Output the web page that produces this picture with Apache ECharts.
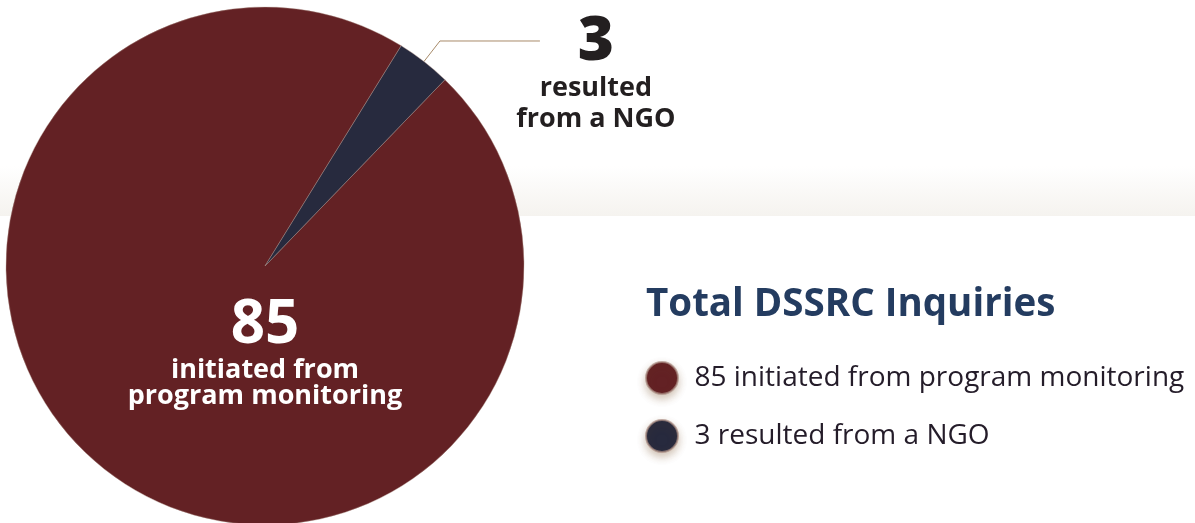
<!DOCTYPE html>
<html>
<head>
<meta charset="utf-8">
<script src="https://cdn.jsdelivr.net/npm/echarts@6/dist/echarts.min.js"></script>
<style>
  html, body { margin: 0; padding: 0; background: #fff; }
  #chart { width: 1195px; height: 523px; }
</style>
</head>
<body>
<div id="chart"></div>
<script>
const categories = ['initiated from program monitoring', 'resulted from a NGO']
const values = [85, 3]
const sliceLabels = ['initiated from\nprogram monitoring', 'resulted\nfrom a NGO']
const colors = ['#632124', '#272a3e']
const titleText = 'Total DSSRC Inquiries'

const FONT = '"Open Sans"'
const names = categories.map((c, i) => values[i] + ' ' + c)

const richText = (v, txt) =>
  '{v|' + v + '}\n' + txt.split('\n').map((l) => '{t|' + l + '}').join('\n')

const chart = echarts.init(document.getElementById('chart'), null, {
  renderer: 'canvas',
  width: 1195,
  height: 523,
})

const option = {
  animation: false,
  backgroundColor: '#fff',
  graphic: [
    {
      type: 'rect',
      z: -10,
      silent: true,
      shape: { x: 0, y: 166, width: 1195, height: 50 },
      style: {
        fill: {
          type: 'linear', x: 0, y: 0, x2: 0, y2: 1,
          colorStops: [
            { offset: 0, color: 'rgba(245,242,238,0)' },
            { offset: 1, color: '#f5f3ef' },
          ],
        },
      },
    },
  ],
  title: {
    text: titleText,
    left: 646,
    top: 286,
    padding: 0,
    textStyle: { fontFamily: FONT, fontSize: 38.5, fontWeight: 'bold', color: '#243c60' },
  },
  legend: {
    orient: 'vertical',
    left: 640,
    top: 356,
    icon: 'circle',
    itemWidth: 55,
    itemHeight: 32,
    itemGap: 24,
    data: names,
    itemStyle: {
      shadowBlur: 8,
      shadowColor: 'rgba(120,80,40,0.35)',
      shadowOffsetY: 4,
    },
    textStyle: { fontFamily: FONT, fontSize: 28, lineHeight: 32, color: '#241c29' },
  },
  series: [
    {
      type: 'pie',
      center: [265, 266],
      radius: 259,
      startAngle: 46,
      clockwise: true,
      avoidLabelOverlap: false,
      emphasis: { disabled: true },
      itemStyle: { borderColor: 'rgba(170,140,130,0.7)', borderWidth: 0.6 },
      data: values.map((v, i) => ({
        name: names[i],
        value: v,
        itemStyle: { color: colors[i] },
        label:
          i === 0
            ? {
                show: true,
                position: 'center',
                padding: [171, 0, 0, 0],
                formatter: richText(v, sliceLabels[i]),
                rich: {
                  v: { fontFamily: FONT, fontSize: 60, fontWeight: 'bold', color: '#fff', lineHeight: 64, align: 'center' },
                  t: { fontFamily: FONT, fontSize: 27, fontWeight: 'bold', color: '#fff', lineHeight: 26, align: 'center' },
                },
              }
            : {
                show: true,
                position: 'outside',
                formatter: richText(v, sliceLabels[i]),
                rich: {
                  v: { fontFamily: FONT, fontSize: 62, fontWeight: 800, color: '#231f20', lineHeight: 62, align: 'center' },
                  t: { fontFamily: FONT, fontSize: 27, fontWeight: 'bold', color: '#231f20', lineHeight: 31, align: 'center' },
                },
              },
        labelLine:
          i === 0
            ? { show: false }
            : { show: true, length: 26, length2: 100, lineStyle: { color: '#a88b6a', width: 1 } },
      })),
      labelLayout: function (params) {
        if (params.dataIndex !== 1 || !params.labelLinePoints) return {}
        const pts = params.labelLinePoints
        const end = pts[pts.length - 1]
        return {
          x: end[0] + 56,
          y: end[1] - 30,
          align: 'center',
          verticalAlign: 'top',
          labelLinePoints: pts,
        }
      },
    },
  ],
}
chart.setOption(option)
</script>
</body>
</html>
